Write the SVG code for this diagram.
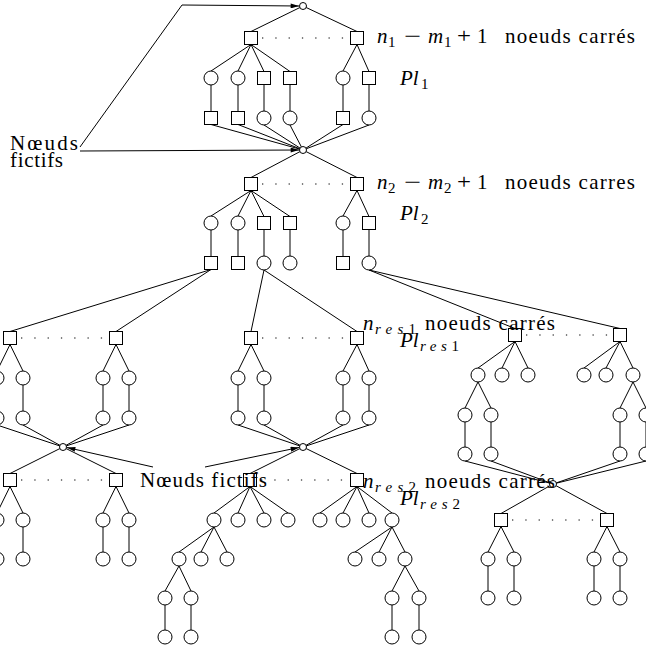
<svg xmlns="http://www.w3.org/2000/svg" width="646" height="653" viewBox="0 0 646 653">
<defs>
<style>
.c,.s,.f{fill:#fff;stroke:#000;stroke-width:1}
.e path{stroke:#000;stroke-width:1;fill:none}
.d{stroke:#666;stroke-width:1.3;stroke-dasharray:1.3 12;fill:none}
text{font-family:"Liberation Serif","DejaVu Serif",serif;font-size:21px;fill:#000}
.i{font-style:italic}
.sb{font-size:15px}
</style>
<marker id="ah" viewBox="0 0 10 6" refX="10" refY="3" markerWidth="9" markerHeight="5" orient="auto" markerUnits="userSpaceOnUse"><path d="M0,0 L10,3 L0,6 Z" fill="#000"/></marker>
</defs>
<rect width="646" height="653" fill="#fff"/>
<g id="connectors" class="e">
<path d="M303,6L251,31.5M303,6L357,31.5"/>
<path d="M251,44.5L211,71M251,44.5L238,71M251,44.5L264,71.5M251,44.5L290,71.5M357,44.5L343,71M357,44.5L369,71.5"/>
<path d="M211,85V111.5M238,85V111.5M264,84.5V111M290,84.5V111M343,85V111.5M369,84.5V111"/>
<path d="M211,124.5L303,150M238,124.5L303,150M264,125L303,150M290,125L303,150M343,124.5L303,150M369,125L303,150"/>
<path d="M303,150L251,177.5M303,150L357,177.5"/>
<path d="M251,190.5L211,216M251,190.5L238,216M251,190.5L264,216.5M251,190.5L290,216.5M357,190.5L343,216M357,190.5L369,216.5"/>
<path d="M211,230V256.5M238,230V256.5M264,229.5V256M290,229.5V256M343,230V256.5M369,229.5V256"/>
<path d="M211,269.5L10,331.5M211,269.5L116,331.5M264,270L251,331.5M264,270L357,331.5M369,270L515,328.5M369,270L620,328.5"/>
<path d="M10,344.5L-3,371M10,344.5L23,371M116,344.5L103,371M116,344.5L129,371M-3,385V411M23,385V411M103,385V411M129,385V411"/>
<path d="M-3,425L63,447M23,425L63,447M103,425L63,447M129,425L63,447M63,447L10,473.5M63,447L116,473.5"/>
<path d="M251,344.5L238,371M251,344.5L264,371M357,344.5L343,371M357,344.5L369,371M238,385V411M264,385V411M343,385V411M369,385V411"/>
<path d="M238,425L303,447M264,425L303,447M343,425L303,447M369,425L303,447M303,447L250,473.5M303,447L357,473.5"/>
<path d="M515,341.5L478,368M515,341.5L502,368M515,341.5L528,368M478,382L465,408M478,382L491,408M465,422V447M491,422V447"/>
<path d="M620,341.5L584,368M620,341.5L606,368M620,341.5L633,368M633,382L620,408M633,382L646,408M620,422V447M646,422V447"/>
<path d="M465,461L553,484M491,461L553,484M620,461L553,484M646,461L553,484M553,484L501,513.5M553,484L607,513.5"/>
<path d="M10,486.5L-3,513M10,486.5L23,513M116,486.5L103,513M116,486.5L129,513M-3,527V552M23,527V552M103,527V552M129,527V552"/>
<path d="M250,486.5L214,513M250,486.5L238,513M250,486.5L264,513M250,486.5L288,513M214,527L179,552M214,527L201,552M214,527L227,552M179,566L165,591M179,566L191,591M165,605V630M191,605V630"/>
<path d="M357,486.5L320,513M357,486.5L343,513M357,486.5L369,513M357,486.5L392,513M392,527L355,552M392,527L379,552M392,527L405,552M405,566L392,591M405,566L419,591M392,605V630M419,605V630"/>
<path d="M501,526.5L488,552M501,526.5L514,552M607,526.5L594,552M607,526.5L620,552M488,566V591M514,566V591M594,566V591M620,566V591"/>
<path d="M80,147L182,5L299,6" marker-end="url(#ah)"/>
<path d="M80,151L299,150" marker-end="url(#ah)"/>
<path d="M153,467L67,447.5" marker-end="url(#ah)"/>
<path d="M205,467L299,447.5" marker-end="url(#ah)"/>
<path class="d" d="M262,38H350M262,184H350M21,338H110M262,338H350M526,335H614M21,480H110M261,480H350M512,520H601"/>
</g>
<g id="f0"><circle class="f" cx="303" cy="6" r="3.5"/></g>
<g id="f1"><circle class="f" cx="303" cy="150" r="3.5"/></g>
<g id="f2"><circle class="f" cx="63" cy="447" r="3.5"/></g>
<g id="f3"><circle class="f" cx="303" cy="447" r="3.5"/></g>
<g id="f4"><circle class="f" cx="553" cy="484" r="3.5"/></g>
<g id="s1a"><rect class="s" x="244.5" y="31.5" width="13" height="13"/></g>
<g id="s1b"><rect class="s" x="350.5" y="31.5" width="13" height="13"/></g>
<g id="p1a"><circle class="c" cx="211" cy="78" r="7"/></g>
<g id="p1b"><circle class="c" cx="238" cy="78" r="7"/></g>
<g id="p1c"><rect class="s" x="257.5" y="71.5" width="13" height="13"/></g>
<g id="p1d"><rect class="s" x="283.5" y="71.5" width="13" height="13"/></g>
<g id="p1e"><circle class="c" cx="343" cy="78" r="7"/></g>
<g id="p1f"><rect class="s" x="362.5" y="71.5" width="13" height="13"/></g>
<g id="p1g"><rect class="s" x="204.5" y="111.5" width="13" height="13"/></g>
<g id="p1h"><rect class="s" x="231.5" y="111.5" width="13" height="13"/></g>
<g id="p1i"><circle class="c" cx="264" cy="118" r="7"/></g>
<g id="p1j"><circle class="c" cx="290" cy="118" r="7"/></g>
<g id="p1k"><rect class="s" x="336.5" y="111.5" width="13" height="13"/></g>
<g id="p1l"><circle class="c" cx="369" cy="118" r="7"/></g>
<g id="s2a"><rect class="s" x="244.5" y="177.5" width="13" height="13"/></g>
<g id="s2b"><rect class="s" x="350.5" y="177.5" width="13" height="13"/></g>
<g id="p2a"><circle class="c" cx="211" cy="223" r="7"/></g>
<g id="p2b"><circle class="c" cx="238" cy="223" r="7"/></g>
<g id="p2c"><rect class="s" x="257.5" y="216.5" width="13" height="13"/></g>
<g id="p2d"><rect class="s" x="283.5" y="216.5" width="13" height="13"/></g>
<g id="p2e"><circle class="c" cx="343" cy="223" r="7"/></g>
<g id="p2f"><rect class="s" x="362.5" y="216.5" width="13" height="13"/></g>
<g id="p2g"><rect class="s" x="204.5" y="256.5" width="13" height="13"/></g>
<g id="p2h"><rect class="s" x="231.5" y="256.5" width="13" height="13"/></g>
<g id="p2i"><circle class="c" cx="264" cy="263" r="7"/></g>
<g id="p2j"><circle class="c" cx="290" cy="263" r="7"/></g>
<g id="p2k"><rect class="s" x="336.5" y="256.5" width="13" height="13"/></g>
<g id="p2l"><circle class="c" cx="369" cy="263" r="7"/></g>
<g id="r1s1"><rect class="s" x="3.5" y="331.5" width="13" height="13"/></g>
<g id="r1s2"><rect class="s" x="109.5" y="331.5" width="13" height="13"/></g>
<g id="r1s3"><rect class="s" x="244.5" y="331.5" width="13" height="13"/></g>
<g id="r1s4"><rect class="s" x="350.5" y="331.5" width="13" height="13"/></g>
<g id="r1s5"><rect class="s" x="508.5" y="328.5" width="13" height="13"/></g>
<g id="r1s6"><rect class="s" x="613.5" y="328.5" width="13" height="13"/></g>
<g id="r1a1"><circle class="c" cx="-3" cy="378" r="7"/></g>
<g id="r1a2"><circle class="c" cx="23" cy="378" r="7"/></g>
<g id="r1a3"><circle class="c" cx="103" cy="378" r="7"/></g>
<g id="r1a4"><circle class="c" cx="129" cy="378" r="7"/></g>
<g id="r1a5"><circle class="c" cx="-3" cy="418" r="7"/></g>
<g id="r1a6"><circle class="c" cx="23" cy="418" r="7"/></g>
<g id="r1a7"><circle class="c" cx="103" cy="418" r="7"/></g>
<g id="r1a8"><circle class="c" cx="129" cy="418" r="7"/></g>
<g id="r1b1"><circle class="c" cx="238" cy="378" r="7"/></g>
<g id="r1b2"><circle class="c" cx="264" cy="378" r="7"/></g>
<g id="r1b3"><circle class="c" cx="343" cy="378" r="7"/></g>
<g id="r1b4"><circle class="c" cx="369" cy="378" r="7"/></g>
<g id="r1b5"><circle class="c" cx="238" cy="418" r="7"/></g>
<g id="r1b6"><circle class="c" cx="264" cy="418" r="7"/></g>
<g id="r1b7"><circle class="c" cx="343" cy="418" r="7"/></g>
<g id="r1b8"><circle class="c" cx="369" cy="418" r="7"/></g>
<g id="r1c1"><circle class="c" cx="478" cy="375" r="7"/></g>
<g id="r1c2"><circle class="c" cx="502" cy="375" r="7"/></g>
<g id="r1c3"><circle class="c" cx="528" cy="375" r="7"/></g>
<g id="r1c4"><circle class="c" cx="584" cy="375" r="7"/></g>
<g id="r1c5"><circle class="c" cx="606" cy="375" r="7"/></g>
<g id="r1c6"><circle class="c" cx="633" cy="375" r="7"/></g>
<g id="r1c7"><circle class="c" cx="465" cy="415" r="7"/></g>
<g id="r1c8"><circle class="c" cx="491" cy="415" r="7"/></g>
<g id="r1c9"><circle class="c" cx="620" cy="415" r="7"/></g>
<g id="r1c10"><circle class="c" cx="646" cy="415" r="7"/></g>
<g id="r1c11"><circle class="c" cx="465" cy="454" r="7"/></g>
<g id="r1c12"><circle class="c" cx="491" cy="454" r="7"/></g>
<g id="r1c13"><circle class="c" cx="620" cy="454" r="7"/></g>
<g id="r1c14"><circle class="c" cx="646" cy="454" r="7"/></g>
<g id="r2s1"><rect class="s" x="3.5" y="473.5" width="13" height="13"/></g>
<g id="r2s2"><rect class="s" x="109.5" y="473.5" width="13" height="13"/></g>
<g id="r2s3"><rect class="s" x="243.5" y="473.5" width="13" height="13"/></g>
<g id="r2s4"><rect class="s" x="350.5" y="473.5" width="13" height="13"/></g>
<g id="r2s5"><rect class="s" x="494.5" y="513.5" width="13" height="13"/></g>
<g id="r2s6"><rect class="s" x="600.5" y="513.5" width="13" height="13"/></g>
<g id="r2a1"><circle class="c" cx="-3" cy="520" r="7"/></g>
<g id="r2a2"><circle class="c" cx="23" cy="520" r="7"/></g>
<g id="r2a3"><circle class="c" cx="103" cy="520" r="7"/></g>
<g id="r2a4"><circle class="c" cx="129" cy="520" r="7"/></g>
<g id="r2a5"><circle class="c" cx="-3" cy="559" r="7"/></g>
<g id="r2a6"><circle class="c" cx="23" cy="559" r="7"/></g>
<g id="r2a7"><circle class="c" cx="103" cy="559" r="7"/></g>
<g id="r2a8"><circle class="c" cx="129" cy="559" r="7"/></g>
<g id="r2b1"><circle class="c" cx="214" cy="520" r="7"/></g>
<g id="r2b2"><circle class="c" cx="238" cy="520" r="7"/></g>
<g id="r2b3"><circle class="c" cx="264" cy="520" r="7"/></g>
<g id="r2b4"><circle class="c" cx="288" cy="520" r="7"/></g>
<g id="r2b5"><circle class="c" cx="179" cy="559" r="7"/></g>
<g id="r2b6"><circle class="c" cx="201" cy="559" r="7"/></g>
<g id="r2b7"><circle class="c" cx="227" cy="559" r="7"/></g>
<g id="r2b8"><circle class="c" cx="165" cy="598" r="7"/></g>
<g id="r2b9"><circle class="c" cx="191" cy="598" r="7"/></g>
<g id="r2b10"><circle class="c" cx="165" cy="637" r="7"/></g>
<g id="r2b11"><circle class="c" cx="191" cy="637" r="7"/></g>
<g id="r2b12"><circle class="c" cx="320" cy="520" r="7"/></g>
<g id="r2b13"><circle class="c" cx="343" cy="520" r="7"/></g>
<g id="r2b14"><circle class="c" cx="369" cy="520" r="7"/></g>
<g id="r2b15"><circle class="c" cx="392" cy="520" r="7"/></g>
<g id="r2b16"><circle class="c" cx="355" cy="559" r="7"/></g>
<g id="r2b17"><circle class="c" cx="379" cy="559" r="7"/></g>
<g id="r2b18"><circle class="c" cx="405" cy="559" r="7"/></g>
<g id="r2b19"><circle class="c" cx="392" cy="598" r="7"/></g>
<g id="r2b20"><circle class="c" cx="419" cy="598" r="7"/></g>
<g id="r2b21"><circle class="c" cx="392" cy="637" r="7"/></g>
<g id="r2b22"><circle class="c" cx="419" cy="637" r="7"/></g>
<g id="r2c1"><circle class="c" cx="488" cy="559" r="7"/></g>
<g id="r2c2"><circle class="c" cx="514" cy="559" r="7"/></g>
<g id="r2c3"><circle class="c" cx="594" cy="559" r="7"/></g>
<g id="r2c4"><circle class="c" cx="620" cy="559" r="7"/></g>
<g id="r2c5"><circle class="c" cx="488" cy="598" r="7"/></g>
<g id="r2c6"><circle class="c" cx="514" cy="598" r="7"/></g>
<g id="r2c7"><circle class="c" cx="594" cy="598" r="7"/></g>
<g id="r2c8"><circle class="c" cx="620" cy="598" r="7"/></g>
<g id="labels">
<text x="377" y="43" class="i">n</text><text x="388" y="47" class="sb">1</text>
<text x="404" y="43" textLength="17" lengthAdjust="spacingAndGlyphs">−</text>
<text x="428" y="43" class="i">m</text><text x="444" y="47" class="sb">1</text>
<text x="457" y="43" textLength="14" lengthAdjust="spacingAndGlyphs">+</text>
<text x="477" y="43">1</text>
<text x="505" y="43" textLength="130" lengthAdjust="spacing">noeuds carrés</text>
<text x="400" y="85" class="i">Pl</text><text x="421" y="89" class="sb">1</text>
<text x="377" y="189" class="i">n</text><text x="388" y="193" class="sb">2</text>
<text x="404" y="189" textLength="17" lengthAdjust="spacingAndGlyphs">−</text>
<text x="428" y="189" class="i">m</text><text x="444" y="193" class="sb">2</text>
<text x="457" y="189" textLength="14" lengthAdjust="spacingAndGlyphs">+</text>
<text x="477" y="189">1</text>
<text x="505" y="189" textLength="130" lengthAdjust="spacing">noeuds carres</text>
<text x="400" y="220" class="i">Pl</text><text x="421" y="224" class="sb">2</text>
<text x="363" y="330" class="i">n</text><text x="375" y="334" class="sb" textLength="41" lengthAdjust="spacing"><tspan class="i">res</tspan>1</text>
<text x="425" y="330" textLength="130" lengthAdjust="spacing">noeuds carrés</text>
<text x="400" y="347" class="i">Pl</text><text x="420" y="351" class="sb" textLength="39" lengthAdjust="spacing"><tspan class="i">res</tspan>1</text>
<text x="363" y="488" class="i">n</text><text x="375" y="492" class="sb" textLength="41" lengthAdjust="spacing"><tspan class="i">res</tspan>2</text>
<text x="425" y="488" textLength="130" lengthAdjust="spacing">noeuds carrés</text>
<text x="400" y="505" class="i">Pl</text><text x="420" y="509" class="sb" textLength="40" lengthAdjust="spacing"><tspan class="i">res</tspan>2</text>
<text x="10" y="150" textLength="68" lengthAdjust="spacing">Nœuds</text>
<text x="10" y="167" textLength="53" lengthAdjust="spacing">fictifs</text>
<text x="140" y="487" textLength="127" lengthAdjust="spacing">Nœuds fictifs</text>
</g>
</svg>
